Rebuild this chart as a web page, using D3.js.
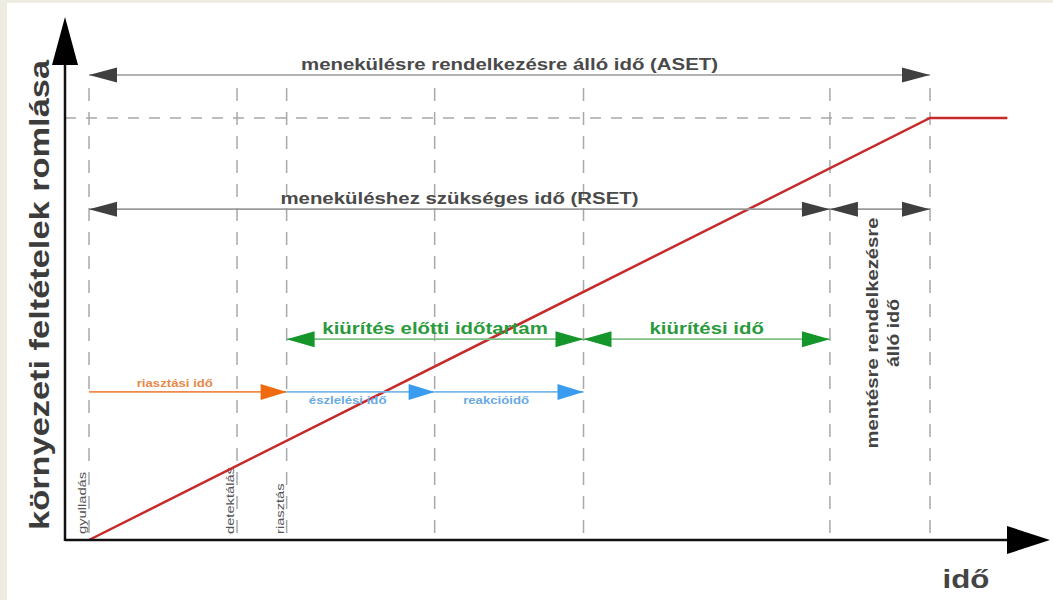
<!DOCTYPE html>
<html>
<head>
<meta charset="utf-8">
<script src="https://cdn.jsdelivr.net/npm/d3@7"></script>
<style>
  body { margin: 0; background: #eeebe0; }
  svg { display: block; }
  text { font-family: "Liberation Sans", Arial, sans-serif; }
</style>
</head>
<body>
<div id="chart"></div>
<script>
// time marks (event moments) on the time axis
var markTimes = [0, 1.76, 2.35, 4.11, 5.88, 8.81, 10];
var markLabels = ["gyulladás", "detektálás", "riasztás", "", "", "", ""];

// deterioration of conditions over time
var curveTimes = [0, 10, 10.92];
var curveLevels = [0, 1, 1];
var criticalLevel = 1;

// interval arrows
var spanLabels = [
  "menekülésre rendelkezésre álló idő (ASET)",
  "meneküléshez szükséges idő (RSET)",
  "",
  "kiürítés előtti időtartam",
  "kiürítési idő",
  "riasztási idő",
  "észlelési idő",
  "reakcióidő"
];
var spanStart = [0, 0, 8.81, 2.35, 5.88, 0, 2.35, 4.11];
var spanEnd = [10, 8.81, 10, 5.88, 8.81, 2.35, 4.11, 5.88];
var spanLevel = [1.102, 0.784, 0.784, 0.476, 0.476, 0.351, 0.351, 0.351];
var spanKind = ["gray", "gray", "gray", "green", "green", "orange", "blue", "blue"];

var yTitle = "környezeti feltételek romlása";
var xTitle = "idő";
var sideNote = ["mentésre rendelkezésre", "álló idő"];

var svgWidth = 1053, svgHeight = 600;
var stretch = 1.2; // the original drawing is a bit wider than tall

var svg = d3.select("#chart").append("svg")
  .attr("width", svgWidth)
  .attr("height", svgHeight);

svg.append("rect")
  .attr("x", 7).attr("y", 3)
  .attr("width", svgWidth - 7).attr("height", svgHeight - 3)
  .attr("fill", "#ffffff");

var x = d3.scaleLinear().domain([0, 10]).range([89, 930]);
var y = d3.scaleLinear().domain([0, 1]).range([540, 118]);
var axisX = 65;

var styles = {
  gray:   { line: "#9a9a9a", head: "#3f3f3f", text: "#4a4a4a", size: 17, hl: 28, hw: 7.5, heads: "both", below: false },
  green:  { line: "#7fbf86", head: "#14962b", text: "#2a9a3c", size: 17, hl: 28, hw: 8,   heads: "both", below: false },
  orange: { line: "#f08a4a", head: "#f06a10", text: "#e8884a", size: 11, hl: 26, hw: 8,   heads: "end",  below: false },
  blue:   { line: "#7ab8ea", head: "#3a9cef", text: "#6aaae2", size: 11, hl: 26, hw: 8,   heads: "end",  below: true }
};

// dashed guide lines
svg.append("line")
  .attr("x1", axisX).attr("x2", x(10))
  .attr("y1", y(criticalLevel)).attr("y2", y(criticalLevel))
  .attr("stroke", "#a8a8a8").attr("stroke-width", 1.5)
  .attr("stroke-dasharray", "11,10");

svg.selectAll(".guide")
  .data(markTimes)
  .enter().append("line")
  .attr("class", "guide")
  .attr("x1", d => x(d)).attr("x2", d => x(d))
  .attr("y1", 88).attr("y2", y(0))
  .attr("stroke", "#a8a8a8").attr("stroke-width", 1.5)
  .attr("stroke-dasharray", "13,11");

// small rotated event labels
svg.selectAll(".mark")
  .data(markTimes)
  .enter().append("text")
  .attr("class", "mark")
  .attr("transform", d => `translate(${x(d) - 3}, 534) rotate(-90) scale(1.4, 1)`)
  .attr("font-size", 10.5)
  .attr("fill", "#555")
  .text((d, i) => markLabels[i]);

// curve
var curve = curveTimes.map((t, i) => [x(t), y(curveLevels[i])]);
svg.append("path")
  .attr("d", d3.line()(curve))
  .attr("fill", "none")
  .attr("stroke", "#c62a2a")
  .attr("stroke-width", 2.5);

// arrows
function tri(tipX, yy, dir, len, hw) {
  var bx = tipX - dir * len;
  return `M${tipX},${yy}L${bx},${yy - hw}L${bx},${yy + hw}Z`;
}

spanLabels.forEach(function(label, i) {
  var s = styles[spanKind[i]];
  var x0 = x(spanStart[i]), x1 = x(spanEnd[i]), yy = y(spanLevel[i]);
  var g = svg.append("g");
  g.append("line")
    .attr("x1", x0).attr("x2", x1)
    .attr("y1", yy).attr("y2", yy)
    .attr("stroke", s.line).attr("stroke-width", 1.6);
  g.append("path").attr("d", tri(x1, yy, 1, s.hl, s.hw)).attr("fill", s.head);
  if (s.heads == "both") {
    g.append("path").attr("d", tri(x0, yy, -1, s.hl, s.hw)).attr("fill", s.head);
  }
  var cx = s.heads == "both" ? (x0 + x1) / 2 : (x0 + x1 - s.hl) / 2;
  var ty = s.below ? yy + 12 : yy - 5;
  g.append("text")
    .attr("transform", `translate(${cx}, ${ty}) scale(${stretch}, 1)`)
    .attr("text-anchor", "middle")
    .attr("font-size", s.size)
    .attr("font-weight", "bold")
    .attr("fill", s.text)
    .text(label);
});

// side note (rotated, two lines)
var sideLengths = [231, 68];
svg.append("text")
  .attr("transform", `translate(${x(9.47) - 7}, 333) rotate(-90)`)
  .attr("text-anchor", "middle")
  .attr("font-size", 16)
  .attr("font-weight", "bold")
  .attr("fill", "#444")
  .selectAll("tspan")
  .data(sideNote)
  .enter().append("tspan")
  .attr("x", 0)
  .attr("y", (d, i) => i * 21)
  .attr("textLength", (d, i) => sideLengths[i])
  .attr("lengthAdjust", "spacingAndGlyphs")
  .text(d => d);

// axes
svg.append("line")
  .attr("x1", axisX).attr("x2", 1010)
  .attr("y1", y(0)).attr("y2", y(0))
  .attr("stroke", "#111").attr("stroke-width", 2.5);
svg.append("line")
  .attr("x1", axisX).attr("x2", axisX)
  .attr("y1", y(0) + 1).attr("y2", 60)
  .attr("stroke", "#111").attr("stroke-width", 2.5);
svg.append("path")
  .attr("d", "M1050,540L1007,526L1007,554Z")
  .attr("fill", "#000");
svg.append("path")
  .attr("d", `M${axisX},17L${axisX - 13},65L${axisX + 13},65Z`)
  .attr("fill", "#000");

svg.append("text")
  .attr("transform", "translate(49, 295) rotate(-90)")
  .attr("text-anchor", "middle")
  .attr("font-size", 27)
  .attr("font-weight", "bold")
  .attr("fill", "#3c3c3c")
  .attr("textLength", 470)
  .attr("lengthAdjust", "spacingAndGlyphs")
  .text(yTitle);

svg.append("text")
  .attr("transform", `translate(966, 588) scale(${stretch}, 1)`)
  .attr("text-anchor", "middle")
  .attr("font-size", 26)
  .attr("font-weight", "bold")
  .attr("fill", "#444")
  .text(xTitle);
</script>
</body>
</html>
